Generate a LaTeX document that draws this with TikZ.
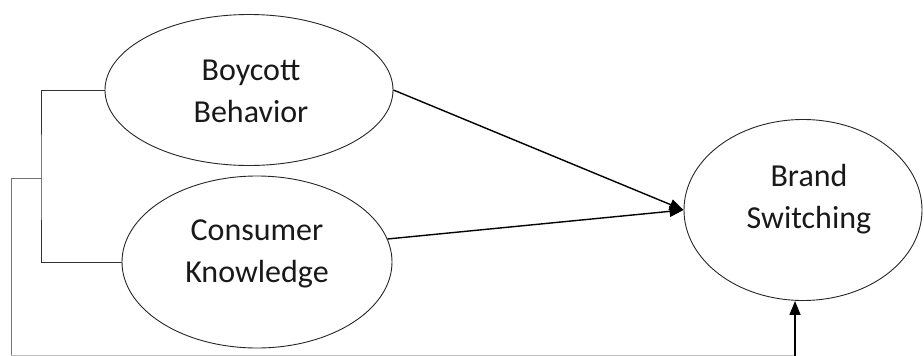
\documentclass[tikz,border=0pt]{standalone}
\usepackage{fontspec}
\setmainfont{Carlito}
\usepackage{tikz}
\usetikzlibrary{arrows.meta,positioning,shapes.geometric,calc}

\begin{document}
\begin{tikzpicture}[
  x=1pt, y=-1pt,
  every node/.style={font=\fontsize{32}{42}\selectfont},
  construct/.style={ellipse, draw=black!85, line width=0.9pt, inner sep=0pt},
  caption/.style={align=center, text=black!90},
  arrow/.style={-{Triangle[length=14pt,width=11pt]}, line width=1.4pt, draw=black},
  link/.style={line width=0.9pt, draw=black!80},
  loop/.style={line width=0.9pt, draw=black!55}
]
\useasboundingbox (0,0) rectangle (924,356);

\node[construct, minimum width=288pt, minimum height=151pt,
  label={[caption, xshift=2pt, yshift=-1pt]center:{Boycott\\Behavior}}] (boycott) at (249,90) {};
\node[construct, minimum width=270pt, minimum height=172pt,
  label={[caption, yshift=8pt]center:{Consumer\\Knowledge}}] (knowledge) at (257,262) {};
\node[construct, minimum width=238pt, minimum height=181pt,
  label={[caption, xshift=6pt, yshift=11pt]center:{Brand\\Switching}}] (switching) at (803,210) {};

\coordinate (join) at (41,178);
\coordinate (outer) at (11,178);
\coordinate (corner) at (795,355.5);

\draw[link] (boycott.west) -| (join) |- (knowledge.west);
\draw[loop] (join) -- (outer) -- (outer |- corner);
\draw[loop, draw=black!25] (outer |- corner) -- (corner);
\draw[arrow] (corner) -- (corner |- switching.south);

\draw[arrow] (boycott.east) -- (switching.west);
\draw[arrow] (knowledge.10) -- (switching.west);
\end{tikzpicture}
\end{document}
